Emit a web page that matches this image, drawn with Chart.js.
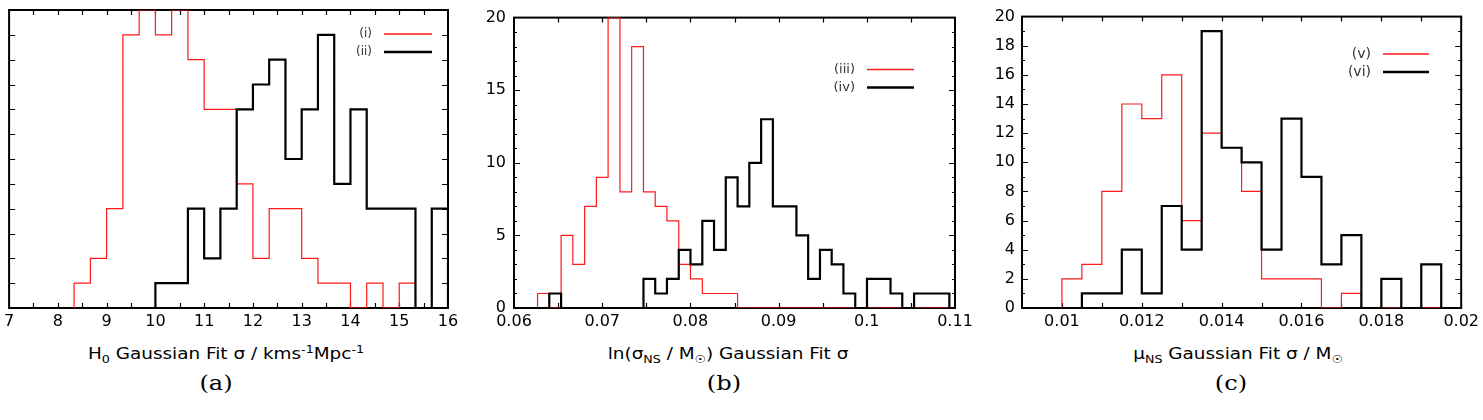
<!DOCTYPE html>
<html><head><meta charset="utf-8">
<script src="https://cdn.jsdelivr.net/npm/chart.js@4.4.0/dist/chart.umd.min.js"></script>
<style>
html,body{margin:0;padding:0;background:#fff;}
#wrap{position:relative;width:1483px;height:420px;overflow:hidden;background:#fff;}
canvas{position:absolute;left:0;top:0;}
.xt{position:absolute;top:344px;font-family:"DejaVu Sans",sans-serif;font-size:16px;line-height:20px;color:#000;white-space:nowrap;transform:translateX(-50%) scaleX(1.15);}
.xt sub,.xt sup{font-size:11px;line-height:0;}
.cap{position:absolute;top:370px;font-family:"DejaVu Serif",serif;font-size:21px;line-height:26px;color:#000;white-space:nowrap;transform:translateX(-50%) scaleX(1.15);}
</style>
</head><body>
<div id="wrap">
<canvas id="ca" width="1483" height="340"></canvas>
<canvas id="cb" width="1483" height="340"></canvas>
<canvas id="cc" width="1483" height="340"></canvas>
<div class="xt" style="left:226px">H<sub>0</sub> Gaussian Fit σ / kms<sup>-1</sup>Mpc<sup>-1</sup></div>
<div class="xt" style="left:728px">ln(σ<sub>NS</sub> / M<sub>☉</sub>) Gaussian Fit σ</div>
<div class="xt" style="left:1238px">μ<sub>NS</sub> Gaussian Fit σ / M<sub>☉</sub></div>
<div class="cap" style="left:216px">(a)</div>
<div class="cap" style="left:724px">(b)</div>
<div class="cap" style="left:1231px">(c)</div>
</div>
<script>
// ---------- Panel (a): H0 Gaussian fit sigma ----------
const aRedEdges   = [8.333, 8.667, 9, 9.333, 9.667, 10, 10.333, 10.667, 11, 11.333, 11.667, 12, 12.333, 12.667, 13, 13.333, 13.667, 14, 14.333, 14.667, 15, 15.333];
const aRedCounts  = [1, 2, 4, 11, 12, 11, 12, 10, 8, 8, 5, 2, 4, 4, 2, 1, 1, 0, 1, 0, 1];
const aBlackEdges = [10, 10.333, 10.667, 11, 11.333, 11.667, 12, 12.333, 12.667, 13, 13.333, 13.667, 14, 14.333, 14.667, 15, 15.333, 15.667, 16];
const aBlackCounts= [1, 1, 4, 2, 4, 8, 9, 10, 6, 8, 11, 5, 8, 4, 4, 4, 0, 4];
const aXLabels    = [7, 8, 9, 10, 11, 12, 13, 14, 15, 16];

// ---------- Panel (b): ln(sigma_NS / Msun) Gaussian fit sigma ----------
const bEdges = [0.06267, 0.06400, 0.06534, 0.06667, 0.06801, 0.06934, 0.07067, 0.07201, 0.07334, 0.07468,
                0.07601, 0.07734, 0.07868, 0.08001, 0.08135, 0.08268, 0.08401, 0.08535, 0.08668, 0.08802,
                0.08935, 0.09068, 0.09202, 0.09335, 0.09469, 0.09602, 0.09735, 0.09869, 0.10002, 0.10136,
                0.10269, 0.10402, 0.10536, 0.10669, 0.10803, 0.10936];
const bRedCounts   = [1, 0, 5, 3, 7, 9, 20, 8, 18, 8, 7, 6, 3, 2, 1, 1, 1, 0, 0, 0, 0, 0, 0, 0, 0, 0, 0, 0, 0, 0, 0, 0, 0, 0, 0];
const bBlackCounts = [0, 1, 0, 0, 0, 0, 0, 0, 0, 2, 1, 2, 4, 3, 6, 4, 9, 7, 10, 13, 7, 7, 5, 2, 4, 3, 1, 0, 2, 2, 1, 0, 1, 1, 1];
const bXLabels = [0.06, 0.07, 0.08, 0.09, 0.1, 0.11];
const bYLabels = [0, 5, 10, 15, 20];

// ---------- Panel (c): mu_NS Gaussian fit sigma ----------
const cEdges = [0.0100, 0.0105, 0.0110, 0.0115, 0.0120, 0.0125, 0.0130, 0.0135, 0.0140, 0.0145,
                0.0150, 0.0155, 0.0160, 0.0165, 0.0170, 0.0175, 0.0180, 0.0185, 0.0190, 0.0195];
const cRedCounts   = [2, 3, 8, 14, 13, 16, 6, 12, 11, 8, 2, 2, 2, 0, 1, 0, 0, 0, 0];
const cBlackCounts = [0, 1, 1, 4, 1, 7, 4, 19, 11, 10, 4, 13, 9, 3, 5, 0, 2, 0, 3];
const cXLabels = [0.01, 0.012, 0.014, 0.016, 0.018, 0.02];
const cYLabels = [0, 2, 4, 6, 8, 10, 12, 14, 16, 18, 20];

const legendA = ['(i)', '(ii)'];
const legendB = ['(iii)', '(iv)'];
const legendC = ['(v)', '(vi)'];

const FONT = '"DejaVu Sans", sans-serif';
const RED = '#ff1a1a';

function steps(edges, counts) {
  const pts = [{x: edges[0], y: 0}];
  counts.forEach((c, i) => pts.push({x: edges[i], y: c}));
  pts.push({x: edges[edges.length - 1], y: 0});
  return pts;
}
function inList(v, list) { return list.some(L => Math.abs(v - L) < 1e-9); }
function fmt(v) { return String(Number(v.toFixed(4))); }

const frameTicks = {
  id: 'frameTicks',
  beforeDatasetsDraw(chart, args, o) {
    const {ctx, chartArea: a, scales} = chart;
    ctx.save();
    ctx.strokeStyle = '#000';
    ctx.lineWidth = 1.2;
    ctx.beginPath();
    scales.x.ticks.forEach(t => {
      const px = Math.round(scales.x.getPixelForValue(t.value)) + 0.5;
      if (px < a.left + 1 || px > a.right - 1) return;
      ctx.moveTo(px, a.bottom); ctx.lineTo(px, a.bottom - o.xLen);
      ctx.moveTo(px, a.top); ctx.lineTo(px, a.top + o.xLen);
    });
    scales.y.ticks.forEach(t => {
      const py = Math.round(scales.y.getPixelForValue(t.value)) + 0.5;
      if (py < a.top + 1 || py > a.bottom - 1) return;
      const len = o.isMajorY(t.value) ? o.majLen : o.minLen;
      ctx.moveTo(a.left, py); ctx.lineTo(a.left + len, py);
      ctx.moveTo(a.right, py); ctx.lineTo(a.right - len, py);
    });
    ctx.stroke();
    ctx.lineWidth = 2;
    ctx.strokeRect(a.left, a.top, a.right - a.left, a.bottom - a.top);
    ctx.restore();
  }
};

const keyBox = {
  id: 'keyBox',
  afterDraw(chart, args, o) {
    const ctx = chart.ctx;
    ctx.save();
    ctx.font = o.size + 'px ' + FONT;
    ctx.textAlign = 'right';
    ctx.textBaseline = 'middle';
    ctx.fillStyle = '#333';
    const styles = [{c: RED, w: 1.4}, {c: '#000', w: 2.4}];
    o.labels.forEach((lab, i) => {
      const y = o.y + i * o.dy;
      ctx.fillText(lab, o.tx, y);
      ctx.strokeStyle = styles[i].c;
      ctx.lineWidth = styles[i].w;
      ctx.beginPath(); ctx.moveTo(o.x1, y); ctx.lineTo(o.x2, y); ctx.stroke();
    });
    ctx.restore();
  }
};

function makePanel(id, p) {
  return new Chart(document.getElementById(id), {
    type: 'line',
    data: { datasets: [
      { label: p.legend[1], data: steps(p.bEdges, p.bCounts), borderColor: '#000', borderWidth: 2.2,
        stepped: true, pointRadius: 0, fill: false, tension: 0 },
      { label: p.legend[0], data: steps(p.rEdges, p.rCounts), borderColor: RED, borderWidth: 1.2,
        stepped: true, pointRadius: 0, fill: false, tension: 0 }
    ]},
    options: {
      responsive: false, animation: false, devicePixelRatio: 1,
      layout: { padding: { left: p.left - p.yWidth, right: 1483 - p.right, top: 10, bottom: 0 } },
      plugins: {
        legend: { display: false }, tooltip: { enabled: false },
        frameTicks: { xLen: 5, majLen: 6, minLen: 3, isMajorY: p.isMajorY },
        keyBox: p.key
      },
      scales: {
        x: { type: 'linear', min: p.xMin, max: p.xMax,
             grid: { display: false, drawTicks: false }, border: { display: false },
             ticks: { stepSize: p.xStep, autoSkip: false, maxRotation: 0, minRotation: 0, padding: 4,
                      color: '#000', font: { family: FONT, size: 16 },
                      callback: v => inList(v, p.xLabels) ? fmt(v) : '' },
             afterFit: s => { s.height = 32; } },
        y: { type: 'linear', min: p.yMin, max: p.yMax,
             grid: { display: false, drawTicks: false }, border: { display: false },
             ticks: { display: p.showY, stepSize: 1, autoSkip: false, padding: p.yPad,
                      color: '#000', font: { family: FONT, size: 16 },
                      callback: v => inList(v, p.yLabels) ? String(v) : '' },
             afterFit: s => { s.width = p.yWidth; } }
      }
    },
    plugins: [frameTicks, keyBox]
  });
}

makePanel('ca', {
  rEdges: aRedEdges, rCounts: aRedCounts, bEdges: aBlackEdges, bCounts: aBlackCounts,
  legend: legendA, xMin: 7, xMax: 16, xStep: 0.5, xLabels: aXLabels,
  yMin: 0, yMax: 12, yLabels: [], showY: false, yPad: 8, isMajorY: v => true,
  left: 7, right: 448, yWidth: 0,
  key: { labels: legendA, tx: 372, x1: 384, x2: 432, y: 34, dy: 18, size: 12 }
});
makePanel('cb', {
  rEdges: bEdges, rCounts: bRedCounts, bEdges: bEdges, bCounts: bBlackCounts,
  legend: legendB, xMin: 0.06, xMax: 0.11, xStep: 0.005, xLabels: bXLabels,
  yMin: 0, yMax: 20, yLabels: bYLabels, showY: true, yPad: 8, isMajorY: v => Math.abs(v % 5) < 1e-9,
  left: 514, right: 955, yWidth: 44,
  key: { labels: legendB, tx: 855, x1: 867, x2: 914, y: 69.5, dy: 18, size: 13 }
});
makePanel('cc', {
  rEdges: cEdges, rCounts: cRedCounts, bEdges: cEdges, bCounts: cBlackCounts,
  legend: legendC, xMin: 0.009, xMax: 0.02, xStep: 0.001, xLabels: cXLabels,
  yMin: 0, yMax: 20, yLabels: cYLabels, showY: true, yPad: 7, isMajorY: v => Math.abs(v % 2) < 1e-9,
  left: 1022, right: 1462, yWidth: 52,
  key: { labels: legendC, tx: 1371, x1: 1383, x2: 1429, y: 54, dy: 18, size: 14 }
});
</script>
</body></html>
